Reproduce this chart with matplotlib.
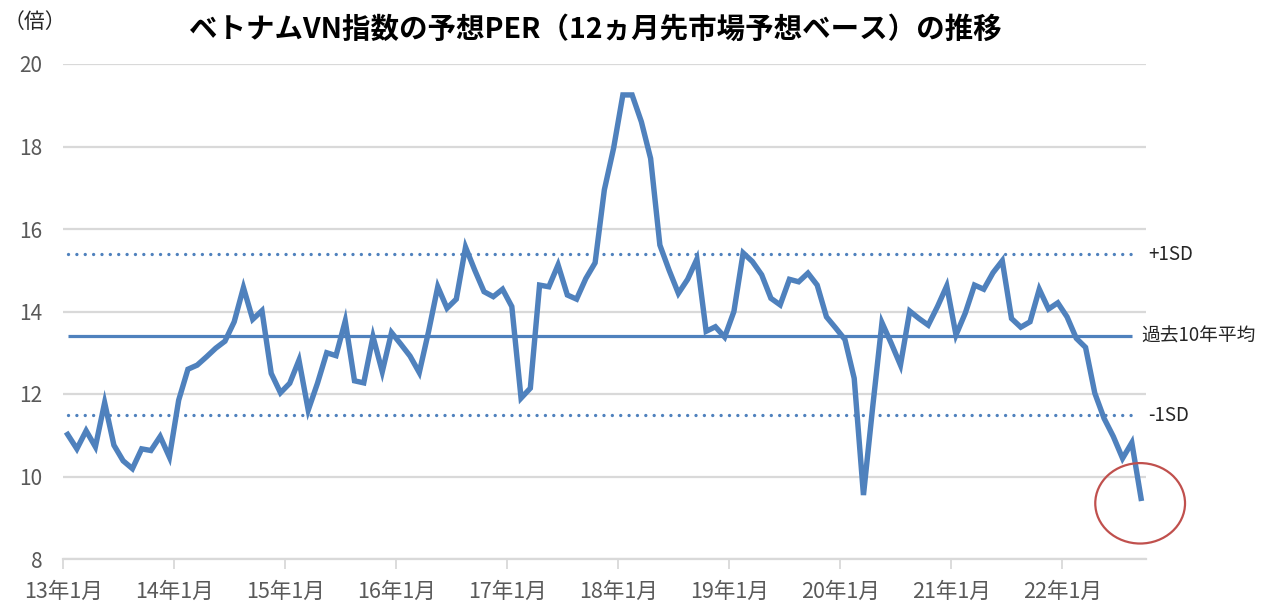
import matplotlib
matplotlib.use("Agg")
import matplotlib.pyplot as plt
from matplotlib.patches import Ellipse
import numpy as np

plt.rcParams['font.family'] = ['Noto Sans CJK JP', 'DejaVu Sans']

# ---- data ----
per_values = [
    11.02, 10.67, 11.11, 10.72, 11.79, 10.76, 10.38, 10.19, 10.67, 10.63, 10.97, 10.47,
    11.85, 12.60, 12.70, 12.90, 13.11, 13.28, 13.75, 14.58, 13.81, 14.02, 12.50, 12.03,
    12.26, 12.82, 11.61, 12.26, 13.00, 12.93, 13.77, 12.32, 12.27, 13.39, 12.54, 13.49,
    13.21, 12.92, 12.52, 13.51, 14.60, 14.08, 14.30, 15.56, 15.00, 14.48, 14.36, 14.54,
    14.12, 11.90, 12.14, 14.64, 14.60, 15.13, 14.40, 14.30, 14.80, 15.18, 16.95, 17.96,
    19.25, 19.25, 18.60, 17.71, 15.61, 15.00, 14.44, 14.78, 15.27, 13.52, 13.63, 13.38,
    14.00, 15.42, 15.21, 14.89, 14.32, 14.16, 14.78, 14.72, 14.93, 14.64, 13.87, 13.60,
    13.32, 12.38, 9.55, 11.69, 13.73, 13.23, 12.70, 14.01, 13.83, 13.67, 14.12, 14.62,
    13.43, 13.96, 14.64, 14.54, 14.94, 15.23, 13.83, 13.62, 13.75, 14.54, 14.06, 14.21,
    13.87, 13.35, 13.13, 12.02, 11.41, 10.97, 10.44, 10.82, 9.47,
]
avg_10y = 13.41
plus_1sd = 15.39
minus_1sd = 11.49
year_labels = ["13年1月", "14年1月", "15年1月", "16年1月", "17年1月",
               "18年1月", "19年1月", "20年1月", "21年1月", "22年1月"]
y_ticks = [8, 10, 12, 14, 16, 18, 20]

title = "ベトナムVN指数の予想PER（12ヵ月先市場予想ベース）の推移"

blue = "#4F81BD"
grid_c = "#D9D9D9"
txt_c = "#595959"

fig = plt.figure(figsize=(12.65, 6.04), dpi=100)
ax = fig.add_axes([63/1265, 1-559/604, (1145.7-63)/1265, (559-64)/604])

n = len(per_values)
x = np.arange(n)
ax.plot(x, per_values, color=blue, lw=3.9, solid_joinstyle='miter', zorder=4)

# reference lines span the categories 0 .. n-2
ax.hlines(avg_10y, 0, n - 2, color=blue, lw=2.3, zorder=3)
ax.hlines([plus_1sd, minus_1sd], 0, n - 2, color=blue, lw=2.4,
          linestyles=[(0, (0.01, 2.5))], capstyle='round', zorder=3)

ax.set_xlim(-0.5, n - 0.5)
ax.set_ylim(8, 20)
ax.set_yticks(y_ticks)
ax.set_yticklabels([str(v) for v in y_ticks])
ax.yaxis.grid(True, color=grid_c, lw=1.6)
ax.set_axisbelow(True)
ax.tick_params(axis='y', length=0, pad=15, labelsize=15, labelcolor=txt_c)

xt = [-0.5 + 12 * k for k in range(len(year_labels))]
ax.set_xticks(xt)
ax.set_xticklabels(year_labels)
ax.tick_params(axis='x', length=7, width=1.3, color=grid_c, pad=9, labelsize=15.5, labelcolor=txt_c)

for s in ['top', 'right', 'left']:
    ax.spines[s].set_visible(False)
ax.spines['bottom'].set_color(grid_c)
ax.spines['bottom'].set_linewidth(1.6)

# right-side labels
ax.text(n - 2 + 1.8, plus_1sd, "+1SD", ha='left', va='center',
        fontsize=13.5, color='#262626', clip_on=False)
ax.text(n - 2 + 1.0, avg_10y, "過去10年平均", ha='left', va='center',
        fontsize=13.5, color='#262626', clip_on=False)
ax.text(n - 2 + 1.8, minus_1sd, "-1SD", ha='left', va='center',
        fontsize=13.5, color='#262626', clip_on=False)

# circle highlighting last point
last_i = n - 1
ell = Ellipse((last_i - 0.1, per_values[-1] - 0.12), width=9.7, height=1.95,
              fill=False, edgecolor='#C0504D', lw=1.6, clip_on=False, zorder=5)
ax.add_patch(ell)

fig.text(595/1265, 1-30/604, title, ha='center', va='center', fontsize=20.5,
         fontweight='bold', color='black')
fig.text(4/1265, 1-22/604, "（倍）", ha='left', va='center', fontsize=15, color='#262626')

fig.savefig("out.png", dpi=100)
